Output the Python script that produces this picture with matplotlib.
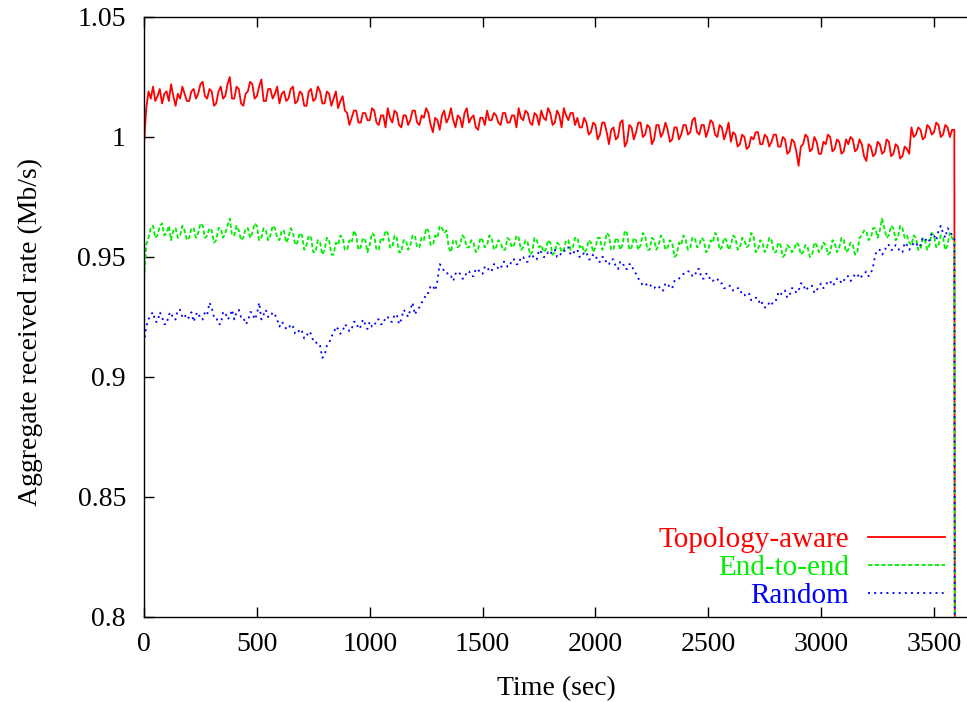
import numpy as np
import matplotlib
matplotlib.use("Agg")
import matplotlib.pyplot as plt

# ---- data (sampled every 10 s, 0..3590 s; all flows stop at 3600 s) ----
step = 10
t_end = 3600

topology_aware = [
    0.997, 1.012, 1.019, 1.016, 1.021, 1.015, 1.017, 1.020, 1.014, 1.018, 1.019, 1.015, 1.022, 1.017, 1.013, 1.018, 1.016, 1.021, 1.018, 1.015,
    1.015, 1.019, 1.020, 1.016, 1.018, 1.022, 1.023, 1.017, 1.016, 1.020, 1.019, 1.013, 1.014, 1.019, 1.021, 1.016, 1.017, 1.022, 1.025, 1.016,
    1.016, 1.021, 1.020, 1.014, 1.013, 1.018, 1.019, 1.023, 1.022, 1.016, 1.017, 1.021, 1.024, 1.015, 1.015, 1.020, 1.020, 1.016, 1.018, 1.021,
    1.014, 1.018, 1.019, 1.015, 1.016, 1.020, 1.021, 1.014, 1.015, 1.019, 1.018, 1.013, 1.013, 1.019, 1.020, 1.015, 1.016, 1.021, 1.019, 1.014,
    1.014, 1.019, 1.018, 1.013, 1.016, 1.019, 1.012, 1.015, 1.017, 1.011, 1.010, 1.005, 1.008, 1.011, 1.011, 1.006, 1.006, 1.010, 1.010, 1.007,
    1.007, 1.012, 1.011, 1.006, 1.005, 1.009, 1.009, 1.004, 1.012, 1.008, 1.006, 1.011, 1.010, 1.005, 1.004, 1.009, 1.009, 1.005, 1.007, 1.011,
    1.011, 1.006, 1.005, 1.009, 1.008, 1.012, 1.010, 1.005, 1.002, 1.008, 1.007, 1.003, 1.009, 1.011, 1.006, 1.008, 1.012, 1.007, 1.004, 1.009,
    1.008, 1.004, 1.010, 1.012, 1.006, 1.008, 1.009, 1.004, 1.003, 1.008, 1.008, 1.005, 1.011, 1.007, 1.007, 1.010, 1.009, 1.006, 1.005, 1.010,
    1.010, 1.006, 1.006, 1.009, 1.009, 1.004, 1.012, 1.008, 1.007, 1.011, 1.010, 1.006, 1.005, 1.010, 1.009, 1.005, 1.011, 1.008, 1.007, 1.012,
    1.010, 1.005, 1.006, 1.011, 1.009, 1.004, 1.012, 1.009, 1.007, 1.010, 1.010, 1.005, 1.008, 1.004, 1.004, 1.008, 1.006, 1.001, 1.002, 1.006,
    1.005, 0.999, 1.001, 1.006, 1.006, 1.002, 0.997, 1.003, 1.004, 0.999, 1.000, 1.006, 1.007, 0.996, 0.998, 1.005, 1.004, 0.999, 1.002, 1.006,
    1.006, 1.000, 1.001, 1.005, 1.004, 0.997, 0.999, 1.005, 1.005, 1.000, 1.002, 1.006, 1.003, 0.998, 0.999, 1.004, 1.004, 0.999, 1.001, 1.005,
    1.005, 1.001, 1.002, 1.007, 1.008, 1.002, 1.001, 1.005, 1.005, 1.000, 1.003, 1.007, 1.006, 1.001, 1.000, 1.005, 1.004, 0.999, 1.002, 1.006,
    0.998, 1.002, 1.001, 0.996, 0.997, 1.001, 1.000, 0.995, 0.996, 1.000, 0.999, 1.002, 1.002, 0.997, 0.997, 1.001, 1.000, 0.996, 0.998, 1.001,
    1.001, 0.996, 0.996, 1.000, 0.999, 0.993, 0.994, 0.999, 0.998, 0.994, 0.988, 0.996, 0.997, 1.001, 1.000, 0.994, 0.995, 1.000, 0.998, 0.993,
    0.993, 0.998, 0.997, 1.001, 1.000, 0.994, 0.995, 0.999, 0.998, 0.993, 0.994, 0.999, 0.997, 1.000, 0.999, 0.994, 0.995, 0.999, 0.997, 0.992,
    0.990, 0.997, 0.996, 0.992, 0.993, 0.998, 0.997, 0.993, 0.994, 0.999, 0.998, 0.992, 0.993, 0.997, 0.996, 0.991, 0.992, 0.996, 0.995, 0.993,
    1.004, 1.000, 1.001, 1.004, 1.003, 0.999, 1.000, 1.005, 1.004, 1.001, 1.002, 1.006, 1.005, 1.000, 1.001, 1.005, 1.004, 1.000, 1.003, 1.003,
]

end_to_end = [
    0.941, 0.955, 0.958, 0.962, 0.963, 0.958, 0.959, 0.963, 0.964, 0.959, 0.960, 0.963, 0.957, 0.961, 0.962, 0.958, 0.959, 0.963, 0.961, 0.957,
    0.958, 0.962, 0.962, 0.958, 0.960, 0.964, 0.963, 0.958, 0.959, 0.962, 0.961, 0.956, 0.957, 0.962, 0.962, 0.958, 0.960, 0.963, 0.966, 0.959,
    0.959, 0.963, 0.961, 0.957, 0.958, 0.962, 0.962, 0.958, 0.960, 0.964, 0.963, 0.957, 0.958, 0.962, 0.961, 0.957, 0.959, 0.963, 0.962, 0.958,
    0.957, 0.961, 0.961, 0.956, 0.958, 0.962, 0.960, 0.955, 0.956, 0.960, 0.959, 0.953, 0.955, 0.959, 0.958, 0.952, 0.952, 0.957, 0.956, 0.951,
    0.953, 0.958, 0.957, 0.951, 0.951, 0.956, 0.955, 0.959, 0.958, 0.953, 0.953, 0.957, 0.956, 0.961, 0.959, 0.953, 0.954, 0.958, 0.957, 0.952,
    0.955, 0.960, 0.959, 0.953, 0.953, 0.958, 0.957, 0.961, 0.960, 0.954, 0.954, 0.959, 0.958, 0.952, 0.952, 0.957, 0.957, 0.953, 0.955, 0.959,
    0.959, 0.954, 0.954, 0.958, 0.957, 0.962, 0.961, 0.955, 0.955, 0.959, 0.958, 0.963, 0.962, 0.960, 0.961, 0.954, 0.952, 0.957, 0.957, 0.954,
    0.955, 0.959, 0.958, 0.954, 0.954, 0.957, 0.956, 0.952, 0.953, 0.958, 0.957, 0.954, 0.955, 0.959, 0.958, 0.953, 0.954, 0.957, 0.956, 0.953,
    0.953, 0.958, 0.957, 0.954, 0.955, 0.959, 0.958, 0.953, 0.954, 0.957, 0.956, 0.951, 0.952, 0.958, 0.957, 0.954, 0.955, 0.952, 0.953, 0.957,
    0.956, 0.951, 0.952, 0.956, 0.955, 0.952, 0.953, 0.957, 0.957, 0.953, 0.954, 0.958, 0.958, 0.954, 0.955, 0.952, 0.953, 0.957, 0.956, 0.952,
    0.954, 0.958, 0.958, 0.953, 0.955, 0.960, 0.959, 0.953, 0.953, 0.958, 0.957, 0.953, 0.955, 0.961, 0.960, 0.953, 0.954, 0.958, 0.957, 0.953,
    0.955, 0.960, 0.959, 0.953, 0.953, 0.958, 0.957, 0.953, 0.955, 0.959, 0.958, 0.953, 0.954, 0.957, 0.956, 0.950, 0.951, 0.956, 0.955, 0.959,
    0.957, 0.953, 0.954, 0.958, 0.958, 0.954, 0.955, 0.958, 0.957, 0.952, 0.953, 0.957, 0.956, 0.960, 0.959, 0.953, 0.954, 0.958, 0.957, 0.953,
    0.955, 0.959, 0.958, 0.953, 0.954, 0.958, 0.957, 0.954, 0.955, 0.960, 0.959, 0.952, 0.953, 0.957, 0.956, 0.952, 0.954, 0.958, 0.957, 0.952,
    0.952, 0.956, 0.955, 0.950, 0.951, 0.955, 0.954, 0.952, 0.953, 0.956, 0.955, 0.951, 0.952, 0.955, 0.954, 0.950, 0.951, 0.956, 0.955, 0.952,
    0.953, 0.956, 0.955, 0.951, 0.952, 0.957, 0.956, 0.952, 0.954, 0.958, 0.957, 0.952, 0.953, 0.956, 0.955, 0.951, 0.952, 0.958, 0.959, 0.961,
    0.961, 0.957, 0.958, 0.962, 0.962, 0.958, 0.961, 0.966, 0.962, 0.958, 0.959, 0.963, 0.962, 0.957, 0.958, 0.963, 0.962, 0.958, 0.959, 0.956,
    0.955, 0.959, 0.958, 0.953, 0.953, 0.958, 0.957, 0.953, 0.955, 0.960, 0.959, 0.954, 0.955, 0.959, 0.958, 0.953, 0.955, 0.960, 0.958, 0.956,
]

random_sel = [
    0.914, 0.921, 0.924, 0.926, 0.927, 0.923, 0.923, 0.927, 0.925, 0.922, 0.922, 0.926, 0.927, 0.924, 0.924, 0.928, 0.928, 0.925, 0.926, 0.924,
    0.925, 0.927, 0.923, 0.926, 0.927, 0.924, 0.924, 0.927, 0.926, 0.931, 0.929, 0.925, 0.925, 0.922, 0.922, 0.927, 0.927, 0.924, 0.925, 0.928,
    0.924, 0.927, 0.928, 0.925, 0.925, 0.922, 0.923, 0.927, 0.927, 0.924, 0.926, 0.931, 0.924, 0.926, 0.928, 0.925, 0.925, 0.927, 0.926, 0.924,
    0.921, 0.923, 0.922, 0.920, 0.920, 0.922, 0.921, 0.918, 0.918, 0.920, 0.919, 0.916, 0.917, 0.919, 0.918, 0.915, 0.915, 0.913, 0.913, 0.908,
    0.909, 0.913, 0.914, 0.917, 0.918, 0.921, 0.920, 0.918, 0.919, 0.922, 0.921, 0.919, 0.920, 0.923, 0.923, 0.920, 0.921, 0.924, 0.922, 0.920,
    0.923, 0.921, 0.921, 0.924, 0.924, 0.922, 0.922, 0.925, 0.925, 0.923, 0.923, 0.926, 0.926, 0.922, 0.924, 0.928, 0.927, 0.925, 0.928, 0.931,
    0.926, 0.928, 0.929, 0.931, 0.932, 0.935, 0.935, 0.938, 0.938, 0.936, 0.940, 0.947, 0.946, 0.944, 0.944, 0.942, 0.942, 0.940, 0.943, 0.944,
    0.943, 0.941, 0.941, 0.944, 0.944, 0.942, 0.942, 0.945, 0.945, 0.943, 0.943, 0.946, 0.946, 0.944, 0.944, 0.947, 0.947, 0.945, 0.945, 0.948,
    0.948, 0.946, 0.946, 0.949, 0.949, 0.947, 0.947, 0.950, 0.950, 0.948, 0.948, 0.951, 0.951, 0.949, 0.949, 0.953, 0.952, 0.950, 0.950, 0.952,
    0.951, 0.953, 0.953, 0.950, 0.950, 0.952, 0.952, 0.954, 0.954, 0.951, 0.951, 0.953, 0.953, 0.950, 0.950, 0.952, 0.952, 0.949, 0.949, 0.951,
    0.951, 0.948, 0.948, 0.950, 0.950, 0.947, 0.947, 0.949, 0.949, 0.946, 0.945, 0.948, 0.948, 0.945, 0.945, 0.947, 0.947, 0.944, 0.943, 0.941,
    0.940, 0.938, 0.938, 0.939, 0.939, 0.937, 0.937, 0.938, 0.938, 0.936, 0.936, 0.939, 0.939, 0.937, 0.937, 0.940, 0.940, 0.941, 0.942, 0.943,
    0.943, 0.944, 0.944, 0.942, 0.942, 0.945, 0.945, 0.941, 0.941, 0.943, 0.943, 0.940, 0.940, 0.941, 0.941, 0.939, 0.939, 0.937, 0.937, 0.938,
    0.938, 0.936, 0.936, 0.937, 0.937, 0.934, 0.934, 0.935, 0.935, 0.932, 0.932, 0.933, 0.933, 0.930, 0.931, 0.929, 0.929, 0.931, 0.930, 0.932,
    0.932, 0.935, 0.934, 0.936, 0.936, 0.933, 0.934, 0.937, 0.937, 0.935, 0.936, 0.939, 0.939, 0.936, 0.937, 0.938, 0.938, 0.935, 0.936, 0.938,
    0.939, 0.937, 0.938, 0.940, 0.940, 0.938, 0.939, 0.941, 0.941, 0.939, 0.940, 0.942, 0.942, 0.940, 0.941, 0.943, 0.943, 0.941, 0.942, 0.943,
    0.944, 0.942, 0.943, 0.946, 0.951, 0.953, 0.953, 0.951, 0.952, 0.955, 0.955, 0.953, 0.953, 0.955, 0.954, 0.952, 0.952, 0.956, 0.955, 0.953,
    0.954, 0.956, 0.956, 0.954, 0.955, 0.958, 0.958, 0.956, 0.957, 0.960, 0.959, 0.957, 0.961, 0.963, 0.960, 0.958, 0.962, 0.961, 0.959, 0.958,
]
stop_value = 0.0

labels = ["Topology-aware", "End-to-end", "Random"]
colors = ["#ff0000", "#00ee00", "#0000ff"]
x_ticks = [0, 500, 1000, 1500, 2000, 2500, 3000, 3500]
y_ticks = [0.8, 0.85, 0.9, 0.95, 1.0, 1.05]
y_tick_labels = ["0.8", "0.85", "0.9", "0.95", "1", "1.05"]

# ---- plotting ----
plt.rcParams['font.family'] = ['Liberation Serif', 'DejaVu Serif']
fig = plt.figure(figsize=(9.67, 7.02), dpi=100)
W, H = 967, 702
ax_left, ax_bottom, ax_h = 144, 85, 600
px_per_unit = 112.86 / 500
xmax = 3700
ax_w = xmax * px_per_unit
ax = fig.add_axes([ax_left / W, ax_bottom / H, ax_w / W, ax_h / H])

t = list(np.arange(0, t_end, step)) + [t_end]
lw = 1.3
styles = ['-', (0, (2.4, 1.3)), (0, (1.1, 2.3))]
for series, lab, col, ls in zip([topology_aware, end_to_end, random_sel], labels, colors, styles):
    ax.plot(t, series + [stop_value], color=col, lw=lw, ls=ls, label=lab)

ax.set_xlim(0, xmax)
ax.set_ylim(0.8, 1.05)
ax.set_xticks(x_ticks)
ax.set_xticklabels([str(v) for v in x_ticks])
ax.set_yticks(y_ticks)
ax.set_yticklabels(y_tick_labels)
ax.tick_params(direction='in', length=7, width=1, labelsize=20, top=True, right=True,
               colors='black')
ax.tick_params(axis='x', pad=11)
ax.tick_params(axis='y', pad=13)
for s in ax.spines.values():
    s.set_linewidth(1)
    s.set_color('black')

ax.set_xlabel("Time (sec)", fontsize=20)
ax.xaxis.set_label_coords((556 - ax_left) / ax_w, -0.099)
ax.set_ylabel("Aggregate received rate (Mb/s)", fontsize=20)
ax.yaxis.set_label_coords((43 - ax_left) / ax_w, 0.475)

leg = ax.legend(loc='lower right', bbox_to_anchor=((945 - ax_left) / ax_w, 0.013),
                markerfirst=False, frameon=False, fontsize=21, handlelength=2.64,
                handletextpad=0.65, labelspacing=0.05, borderpad=0, borderaxespad=0,
                labelcolor='linecolor')

fig.savefig("out.png", dpi=100)
